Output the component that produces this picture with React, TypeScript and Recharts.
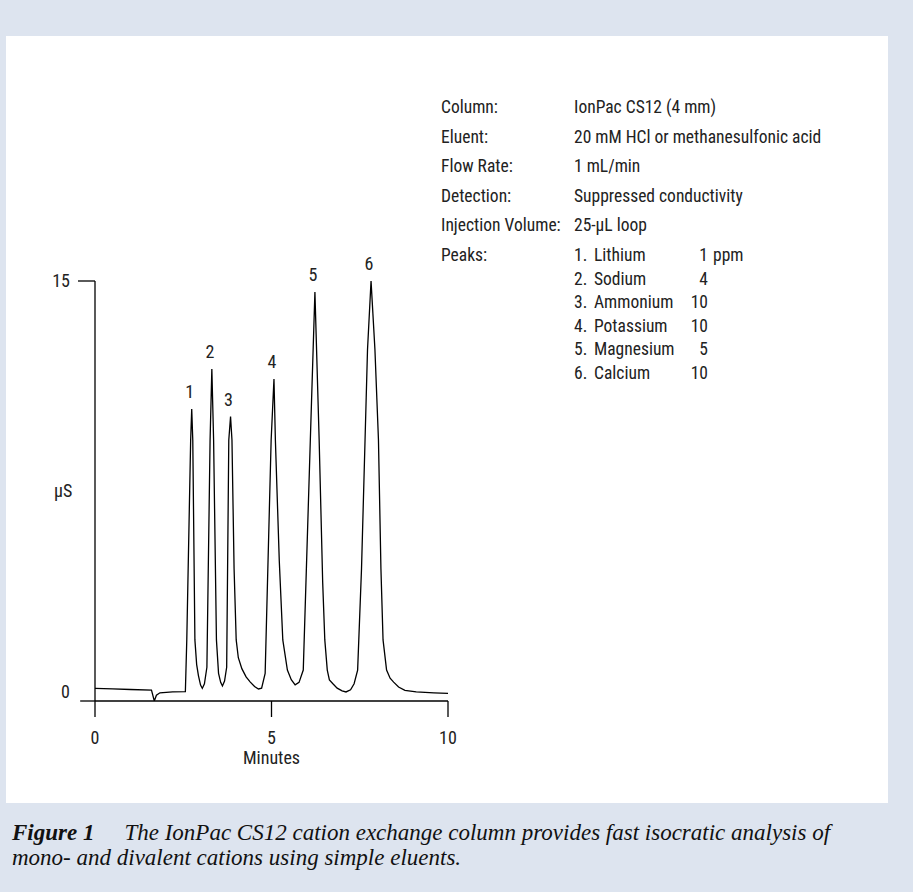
import React from 'react';
import { LineChart, Line, XAxis, YAxis, ReferenceDot, ReferenceLine, Label } from 'recharts';

// chromatogram trace, minutes vs µS
const times = [
  0, 0.5, 1.0, 1.6, 1.68, 1.74, 1.84, 2.2, 2.56,
  2.6, 2.71, 2.74, 2.77, 2.83, 2.88, 2.93, 2.99, 3.04, 3.1, 3.17,
  3.26, 3.31, 3.36, 3.44, 3.5, 3.56, 3.61, 3.67, 3.73,
  3.79, 3.84, 3.88, 3.94, 4.0, 4.06, 4.16, 4.28, 4.4, 4.52, 4.63, 4.72, 4.82,
  4.99, 5.07, 5.11, 5.22, 5.32, 5.45, 5.56, 5.67, 5.78, 5.9,
  6.1, 6.23, 6.35, 6.45, 6.51, 6.58, 6.64, 6.74, 6.86, 7.0, 7.11, 7.24, 7.34, 7.44,
  7.55, 7.65, 7.72, 7.82, 7.93, 8.03, 8.1, 8.16, 8.26, 8.36, 8.46, 8.6, 8.78, 9.1, 9.6, 10.0,
];
const signal = [
  0.13, 0.11, 0.09, 0.07, -0.33, -0.12, -0.03, 0.0, 0.01,
  1.9, 9.2, 10.33, 9.2, 1.9, 1.0, 0.6, 0.25, 0.13, 0.3, 0.9,
  9.2, 11.79, 9.2, 1.9, 0.68, 0.35, 0.22, 0.4, 0.9,
  9.2, 10.05, 9.2, 4.5, 1.9, 1.25, 0.85, 0.55, 0.36, 0.2, 0.11, 0.14, 0.68,
  9.2, 11.42, 9.2, 4.8, 1.9, 0.8, 0.45, 0.26, 0.35, 0.8,
  9.2, 14.6, 9.2, 4.0, 1.9, 0.8, 0.44, 0.3, 0.14, 0.04, 0.0, 0.08, 0.3, 0.8,
  4.5, 9.2, 12.5, 15.0, 12.5, 9.2, 4.5, 1.9, 0.8, 0.5, 0.36, 0.18, 0.06, 0.0, -0.03, -0.05,
];

const peakNums = ['1', '2', '3', '4', '5', '6'];
const peakTimes = [2.74, 3.31, 3.84, 5.07, 6.23, 7.82];
const peakHeights = [10.33, 11.79, 10.05, 11.42, 14.6, 15.0];

const xTicks = [0, 5, 10];
const yTicks = [0, 15];

const infoLabels = ['Column:', 'Eluent:', 'Flow Rate:', 'Detection:', 'Injection Volume:', 'Peaks:'];
const infoValues = [
  'IonPac CS12 (4 mm)',
  '20 mM HCl or methanesulfonic acid',
  '1 mL/min',
  'Suppressed conductivity',
  '25-μL loop',
  '',
];
const peakNames = ['Lithium', 'Sodium', 'Ammonium', 'Potassium', 'Magnesium', 'Calcium'];
const peakConc = ['1', '4', '10', '10', '5', '10'];

const data = times.map((t, i) => ({ t, v: signal[i] }));

const FONT = "'Liberation Sans Narrow', 'Roboto Condensed', 'Arial Narrow', 'Liberation Sans', sans-serif";
const INK = '#222';
const FS = 18;
const INFO_FS = 17.5;

function YTick(props: any) {
  const { x, y, payload } = props;
  return (
    <g>
      <text x={x} y={y} dy="0.36em" textAnchor="end" fill={INK} fontSize={FS} fontFamily={FONT}>
        {payload.value}
      </text>
      {payload.value === 15 && <line x1={x + 8} x2={x + 25} y1={y} y2={y} stroke="#000" strokeWidth={1.3} />}
    </g>
  );
}

export default function App() {
  return (
    <div style={{ position: 'absolute', left: 0, top: 0, width: 913, height: 892, background: '#dde4ef', fontFamily: FONT }}>
      <div style={{ position: 'absolute', left: 6, top: 36, width: 882, height: 767, background: '#fff' }} />

      <LineChart
        width={913}
        height={800}
        data={data}
        margin={{ top: 281, right: 465, left: 35, bottom: 49 }}
        style={{ position: 'absolute', left: 0, top: 0 }}
      >
        <XAxis
          dataKey="t"
          type="number"
          domain={[0, 10]}
          ticks={xTicks}
          allowDataOverflow
          height={50}
          tickSize={16}
          tickMargin={14}
          axisLine={{ stroke: '#000', strokeWidth: 1.3 }}
          tickLine={{ stroke: '#000', strokeWidth: 1.3 }}
          tick={{ fill: INK, fontSize: FS, fontFamily: FONT }}
        >
          <Label value="Minutes" position="bottom" offset={0} fill={INK} fontSize={FS} fontFamily={FONT} />
        </XAxis>
        <YAxis
          type="number"
          domain={[-0.33, 15]}
          ticks={yTicks}
          allowDataOverflow
          width={60}
          tickSize={17}
          tickMargin={8}
          tickLine={false}
          axisLine={{ stroke: '#000', strokeWidth: 1.3 }}
          tick={<YTick />}
        >
          <Label value="μS" position="insideLeft" offset={19} fill={INK} fontSize={FS} fontFamily={FONT} />
        </YAxis>
        <ReferenceLine
          segment={[{ x: -0.42, y: -0.33 }, { x: 0, y: -0.33 }]}
          ifOverflow="visible"
          stroke="#000"
          strokeWidth={1.3}
        />
        <Line
          type="linear"
          dataKey="v"
          stroke="#000"
          strokeWidth={1.3}
          dot={false}
          isAnimationActive={false}
        />
        {peakNums.map((n, i) => (
          <ReferenceDot
            key={n}
            x={peakTimes[i]}
            y={peakHeights[i]}
            r={1}
            fill="none"
            stroke="none"
            ifOverflow="visible"
            label={{ value: n, position: 'top', offset: 10, dx: -2, fill: INK, fontSize: FS, fontFamily: FONT }}
          />
        ))}
      </LineChart>

      {infoLabels.map((lab, i) => (
        <div key={lab} style={{ position: 'absolute', left: 441, top: 107 + i * 29.6 - 11, fontSize: INFO_FS, lineHeight: '22px', color: INK, whiteSpace: 'nowrap' }}>
          {lab}
        </div>
      ))}
      {infoValues.map((val, i) => (
        <div key={i} style={{ position: 'absolute', left: 574, top: 107 + i * 29.6 - 11, fontSize: INFO_FS, lineHeight: '22px', color: INK, whiteSpace: 'nowrap' }}>
          {val}
        </div>
      ))}
      {peakNames.map((name, i) => (
        <div key={name} style={{ position: 'absolute', left: 574, top: 255 + i * 23.6 - 11, fontSize: INFO_FS, lineHeight: '22px', color: INK, whiteSpace: 'nowrap' }}>
          <span style={{ display: 'inline-block', width: 20 }}>{i + 1}.</span>
          <span>{name}</span>
          <span style={{ position: 'absolute', left: 94, width: 40, textAlign: 'right' }}>{peakConc[i]}</span>
          {i === 0 && <span style={{ position: 'absolute', left: 139 }}>ppm</span>}
        </div>
      ))}

      <div style={{ position: 'absolute', left: 12, top: 820, fontFamily: "'Liberation Serif', serif", fontStyle: 'italic', fontSize: 23, lineHeight: '25px', color: '#111', whiteSpace: 'nowrap' }}>
        <div>
          <b>Figure 1</b>
          <span style={{ marginLeft: 30 }}>The IonPac CS12 cation exchange column provides fast isocratic analysis of</span>
        </div>
        <div>mono- and divalent cations using simple eluents.</div>
      </div>
    </div>
  );
}
